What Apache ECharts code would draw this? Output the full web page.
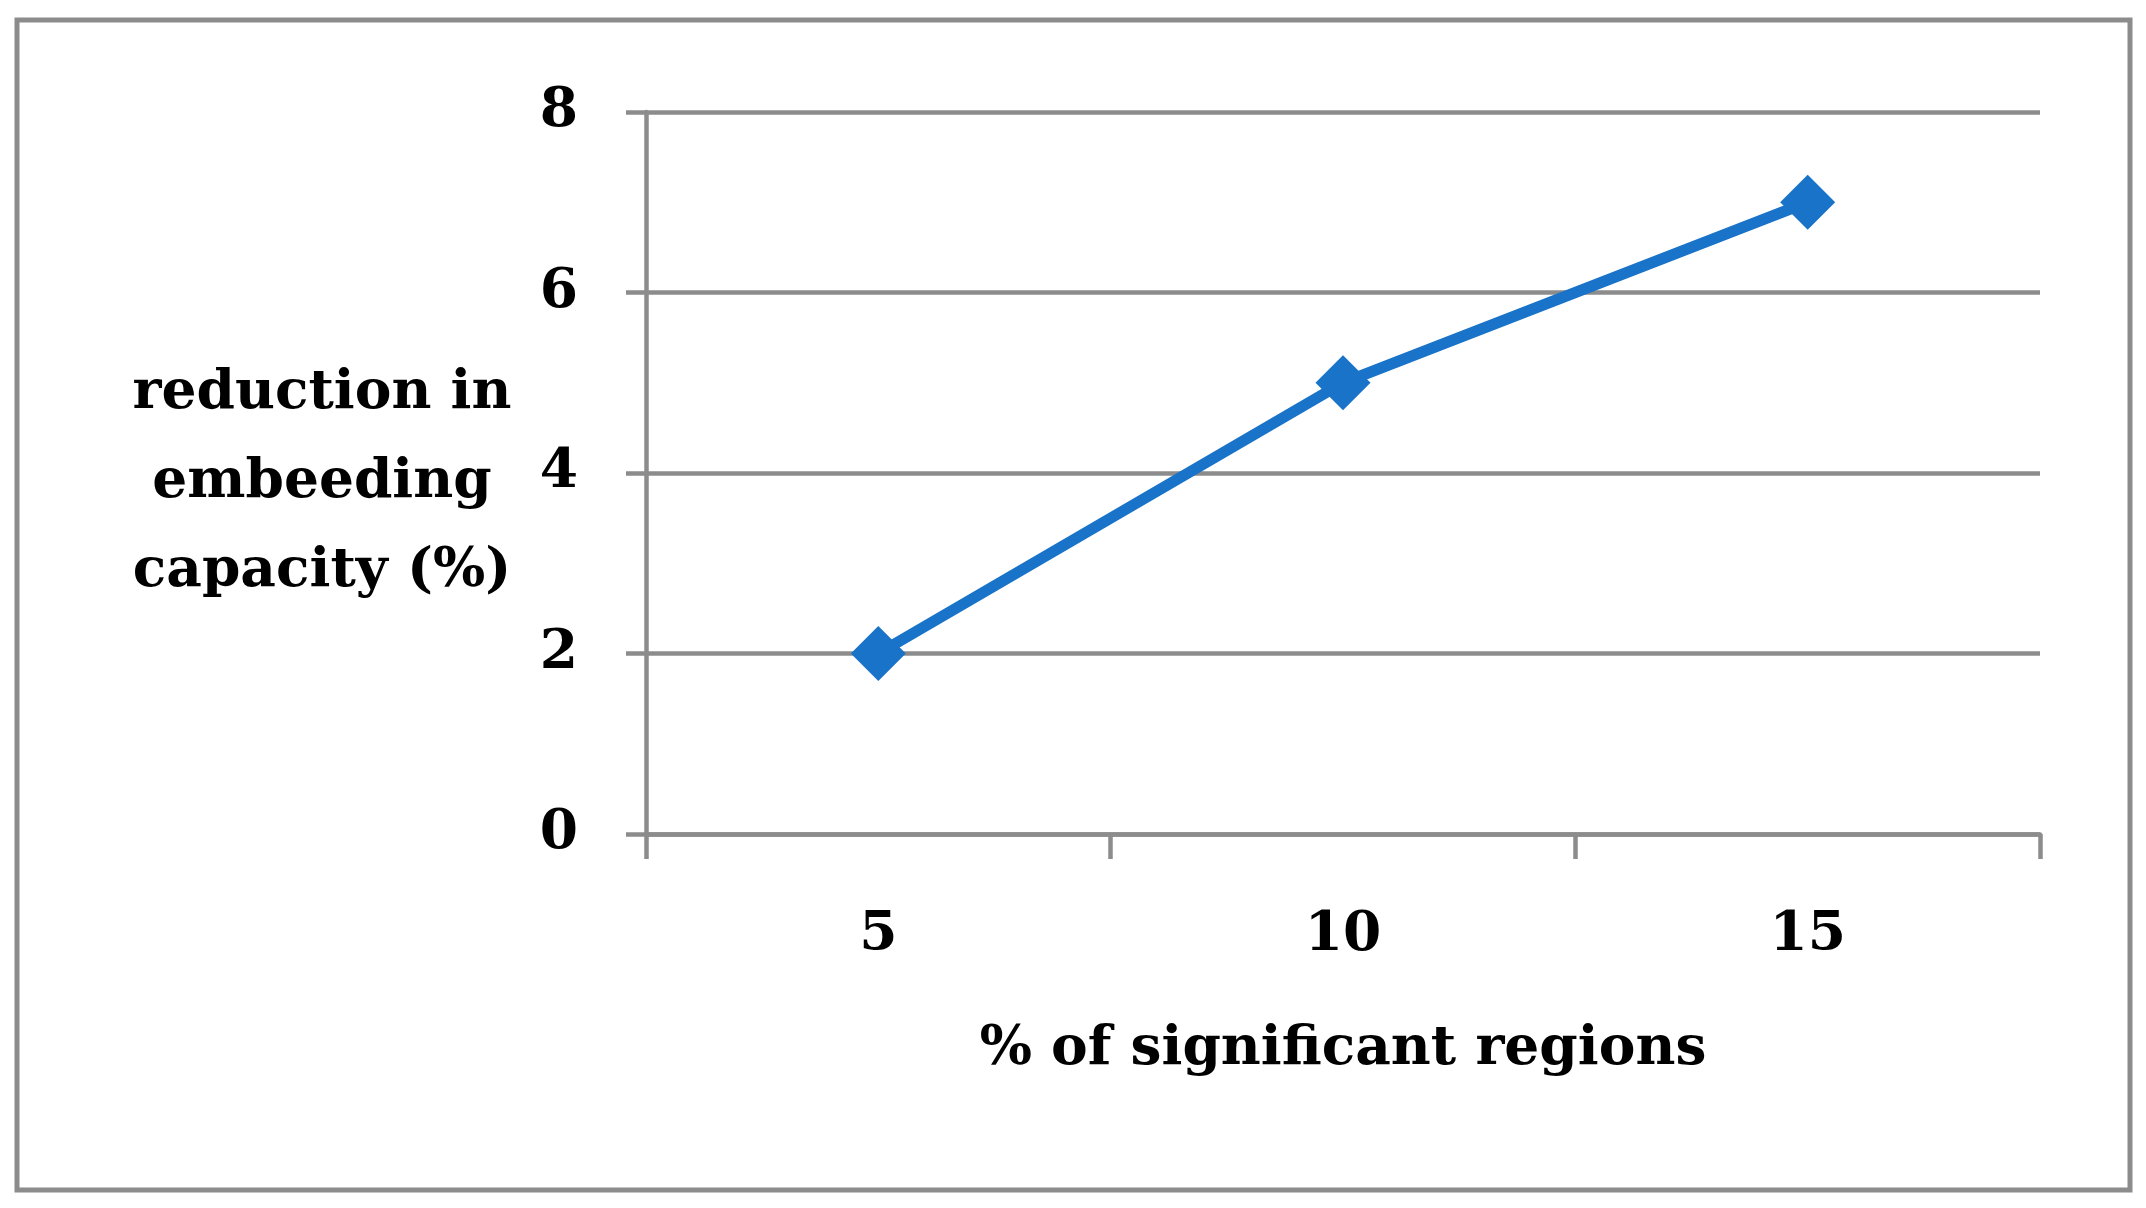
<!DOCTYPE html>
<html><head><meta charset="utf-8">
<script src="https://cdn.jsdelivr.net/npm/echarts@6/dist/echarts.min.js"></script>
<style>html,body{margin:0;padding:0;background:#fff}#c{width:2146px;height:1208px}</style>
</head><body><div id="c"></div>
<script>
const categories = ['5', '10', '15'];
const values = [2, 5, 7];
const yTicks = [0, 2, 4, 6, 8];
const xTitle = '% of significant regions';
const yTitle = 'reduction in\nembeeding\ncapacity (%)';

const FONT = '"DejaVu Serif", "Liberation Serif", serif';
const FS = 55;
const GRAY = '#8c8c8c';
const chart = echarts.init(document.getElementById('c'), null, {renderer: 'canvas'});
chart.setOption({
  backgroundColor: '#fff',
  animation: false,
  grid: {left: 646, top: 112, width: 1394, height: 722, containLabel: false},
  graphic: [
    {type: 'rect', shape: {x: 17, y: 20, width: 2113, height: 1170},
     style: {fill: 'none', stroke: GRAY, lineWidth: 5}, silent: true},
    {type: 'text', left: 322 - 250, top: 484 - 135, style: {
      text: yTitle, x: 0, y: 0, width: 500, fill: '#000',
      font: 'bold ' + FS + 'px ' + FONT, textAlign: 'center', lineHeight: 89}}
  ],
  xAxis: {
    type: 'category', data: categories, boundaryGap: true,
    name: xTitle, nameLocation: 'middle', nameGap: 186,
    nameTextStyle: {color: '#000', fontFamily: FONT, fontWeight: 'bold', fontSize: FS, lineHeight: 60},
    axisLine: {show: true, lineStyle: {color: GRAY, width: 4.5}},
    axisTick: {show: true, length: 25, alignWithLabel: false, lineStyle: {color: GRAY, width: 4.5}},
    axisLabel: {color: '#000', fontFamily: FONT, fontWeight: 'bold', fontSize: FS, margin: 72, lineHeight: 60},
    splitLine: {show: false}
  },
  yAxis: {
    type: 'value', min: yTicks[0], max: yTicks[yTicks.length - 1], interval: 2,
    axisLine: {show: true, lineStyle: {color: GRAY, width: 4.5}},
    axisTick: {show: true, length: 20, lineStyle: {color: GRAY, width: 4.5}},
    axisLabel: {color: '#000', fontFamily: FONT, fontWeight: 'bold', fontSize: FS, margin: 68},
    splitLine: {show: true, lineStyle: {color: GRAY, width: 4.5}}
  },
  series: [{
    type: 'line', data: values,
    symbol: 'diamond', symbolSize: 55,
    lineStyle: {color: '#1873c9', width: 11},
    itemStyle: {color: '#1873c9'}
  }]
});
</script></body></html>
